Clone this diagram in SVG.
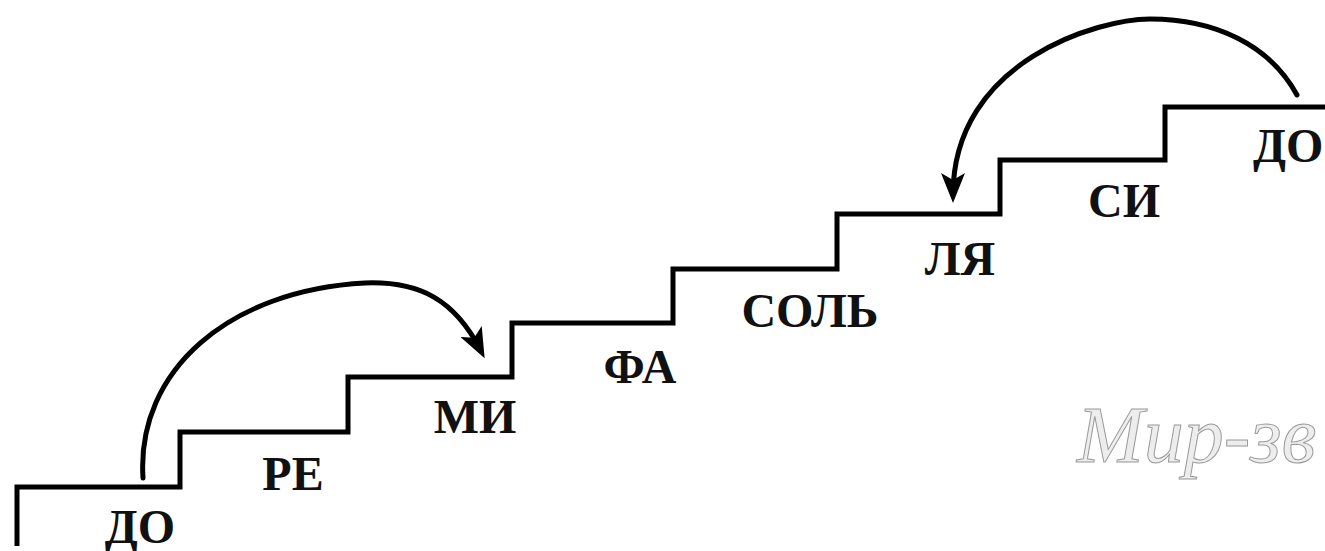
<svg xmlns="http://www.w3.org/2000/svg" width="1325" height="551" viewBox="0 0 1325 551">
  <style>
    .stair { fill: none; stroke: #000; stroke-width: 5; stroke-linejoin: miter; stroke-linecap: butt; }
    .arc { fill: none; stroke: #000; stroke-width: 5; stroke-linecap: round; }
    .lbl { font-family: "Liberation Serif", "DejaVu Serif", serif; font-weight: bold; font-size: 48px; fill: #111; text-anchor: middle; }
    .wm { font-family: "Liberation Serif", "DejaVu Serif", serif; font-style: italic; font-size: 80px; fill: #ededed; stroke: #9a9a9a; stroke-width: 1; }
  </style>
  <defs>
    <marker id="ah" viewBox="0 0 30 24" refX="22" refY="12" markerWidth="30" markerHeight="24" markerUnits="userSpaceOnUse" orient="auto">
      <path d="M0,0 L30,12 L0,24 L7,12 z" fill="#000"/>
    </marker>
  </defs>
  <rect width="1325" height="551" fill="#fff"/>

  <text class="wm" x="1077" y="462">Мир-зв</text>

  <g id="staircase">
    <path class="stair" d="M17,546 V487 H180 V432 H348 V377 H512 V323 H673 V269 H837 V214 H1000 V160 H1165 V107 H1325"/>
  </g>

  <g id="node-do1"><text class="lbl" x="140" y="543">ДО</text></g>
  <g id="node-re"><text class="lbl" x="293" y="490">РЕ</text></g>
  <g id="node-mi"><text class="lbl" x="475" y="433">МИ</text></g>
  <g id="node-fa"><text class="lbl" x="640" y="383">ФА</text></g>
  <g id="node-sol"><text class="lbl" x="810" y="327">СОЛЬ</text></g>
  <g id="node-la"><text class="lbl" x="960" y="275">ЛЯ</text></g>
  <g id="node-si"><text class="lbl" x="1124" y="217">СИ</text></g>
  <g id="node-do2"><text class="lbl" x="1253" y="162" style="text-anchor:start">ДО</text></g>

  <g id="connectors">
    <path class="arc" d="M143,478 C136,370 230,290 365,283 C420,281 455,300 481,351" marker-end="url(#ah)"/>
    <path class="arc" d="M1297,95 C1270,45 1215,19 1150,19 C1100,19 953,60 953,195" marker-end="url(#ah)"/>
  </g>
</svg>
